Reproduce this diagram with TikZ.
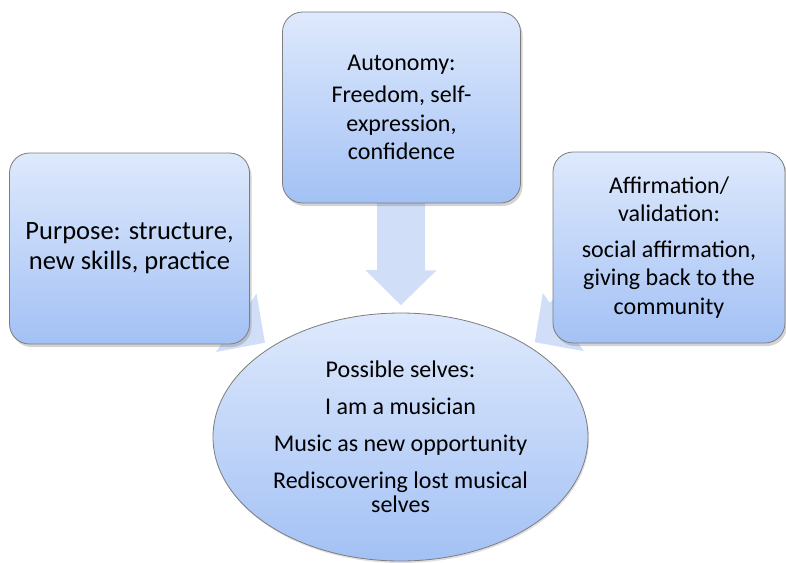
\documentclass[tikz,border=0pt]{standalone}
\usepackage{fontspec}
\setmainfont{Carlito}
\usetikzlibrary{shapes.geometric,shadows,arrows.meta,calc}
\definecolor{boxtop}{RGB}{222,233,252}
\definecolor{boxbot}{RGB}{163,193,245}
\definecolor{boxline}{RGB}{125,125,125}
\definecolor{arrowfill}{RGB}{208,222,248}

\begin{document}
\begin{tikzpicture}[y=-1pt, x=1pt,
  themebox/.style={rectangle, rounded corners=20pt, draw=boxline, line width=0.8pt,
    top color=boxtop, bottom color=boxbot,
    drop shadow={opacity=0.35, shadow xshift=2pt, shadow yshift=-3pt},
    minimum width=238pt, minimum height=191pt, inner sep=0pt, align=center,
    font=\fontsize{24}{28.5}\selectfont},
  selvesnode/.style={ellipse, draw=boxline, line width=0.8pt,
    top color=boxtop, bottom color=boxbot,
    drop shadow={opacity=0.25, shadow xshift=1pt, shadow yshift=-2pt},
    minimum width=375pt, minimum height=248pt, inner sep=0pt, align=center,
    font=\fontsize{24}{24}\selectfont},
  bigarrow/.style={draw=arrowfill, line width=48pt,
    -{Triangle[width=69pt, length=35pt, fill=arrowfill]}}]
\useasboundingbox (0,0) rectangle (786,562);

% centres of the four parts
\coordinate (c-auto) at (401.5,107.5);
\coordinate (c-purp) at (129.5,248.5);
\coordinate (c-affi) at (669,247.5);
\coordinate (c-self) at (400.5,437);

% arrows behind the boxes
\coordinate (tip-auto) at ($(c-auto)!0.6!(c-self)$);
\coordinate (tip-purp) at ($(c-purp)!0.5!(c-self)$);
\coordinate (tip-affi) at ($(c-affi)!0.5!(c-self)$);
\draw[bigarrow] (c-auto) -- (tip-auto);
\draw[bigarrow] (c-purp) -- (tip-purp);
\draw[bigarrow] (c-affi) -- (tip-affi);

\node[themebox] (autonomy) at (c-auto)
  {Autonomy:\\[4pt]Freedom, self-\\expression,\\confidence};
\node[themebox, minimum width=240pt, font=\fontsize{26.5}{30}\selectfont] (purpose) at (c-purp)
  {Purpose: structure,\\new skills, practice};
\node[themebox, minimum width=232pt] (affirm) at (c-affi)
  {Affirmation/\\validation:\\[7pt]social affirmation,\\giving back to the\\community};

\node[selvesnode] (selves) at (c-self)
  {Possible selves:\\[13pt]I am a musician\\[13pt]Music as new opportunity\\[13pt]Rediscovering lost musical\\selves};

\end{tikzpicture}
\end{document}
